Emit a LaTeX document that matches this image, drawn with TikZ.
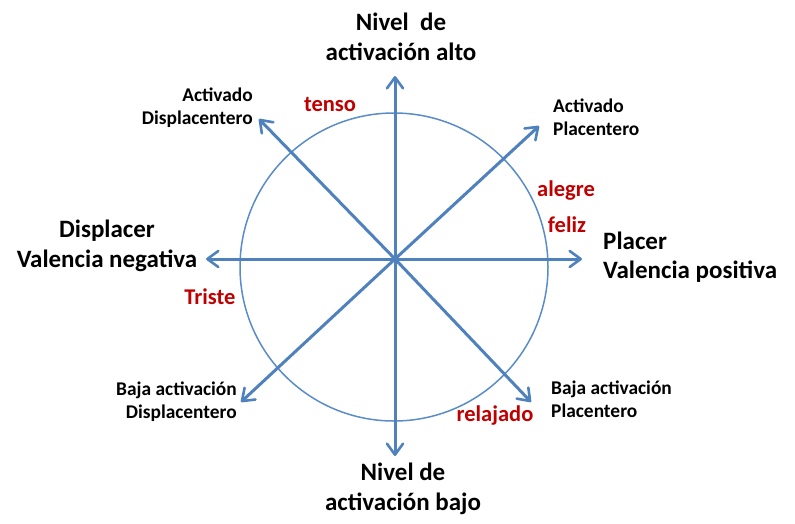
\documentclass[tikz,border=0pt]{standalone}
\usepackage{fontspec}
\setmainfont{Carlito}
\usetikzlibrary{arrows.meta}
\definecolor{axisblue}{RGB}{79,129,189}
\definecolor{circblue}{RGB}{90,140,200}
\definecolor{emored}{RGB}{192,0,0}
\tikzset{
  axisarrow/.style={draw=axisblue, line width=3pt, line cap=round,
    -{Straight Barb[length=11pt,width=16pt,line width=2.6pt,round]}},
  bigtxt/.style={font=\bfseries\fontsize{25}{29.5}\selectfont, text=black, inner sep=0pt, align=center},
  smalltxt/.style={font=\bfseries\fontsize{19.4}{23}\selectfont, text=black, inner sep=0pt},
  emotxt/.style={font=\bfseries\fontsize{22.5}{25}\selectfont, text=emored, inner sep=0pt},
}
\begin{document}
\begin{tikzpicture}[x=1pt,y=-1pt]
\useasboundingbox (0,0) rectangle (795,523);
\coordinate (O) at (395,259);
\coordinate (C) at (394,267);
\coordinate (tN) at (395,76);
\coordinate (tS) at (395,456);
\coordinate (tW) at (206,259);
\coordinate (tE) at (582,259);
\coordinate (tNW) at (259,119);
\coordinate (tNE) at (539,126);
\coordinate (tSW) at (241,402);
\coordinate (tSE) at (531,402);
\draw[draw=circblue, line width=1.5pt] (C) circle[radius=154];
\foreach \t in {tN,tS,tW,tE,tNW,tNE,tSW,tSE}{
  \draw[axisarrow] (O) -- (\t);
}
\node[bigtxt] (nalto) at (401,37) {Nivel\ \ de\\activación alto};
\node[bigtxt] (nbajo) at (403,489) {Nivel de\\activación bajo};
\node[bigtxt] (displ) at (107,246) {Displacer\\Valencia negativa};
\node[bigtxt, align=left, anchor=west] (plac) at (603,257) {Placer\\Valencia positiva};
\node[smalltxt, align=right, anchor=east] (actdis) at (253,108) {Activado\\Displacentero};
\node[smalltxt, align=left, anchor=west] (actpla) at (553,117) {Activado\\Placentero};
\node[smalltxt, align=right, anchor=east] (bajdis) at (237,402) {Baja activación\\Displacentero};
\node[smalltxt, align=left, anchor=west] (bajpla) at (551,399) {Baja activación\\Placentero};
\node[emotxt] (tenso) at (330,104) {tenso};
\node[emotxt] (alegre) at (566,191) {alegre};
\node[emotxt] (feliz) at (567,225) {feliz};
\node[emotxt] (triste) at (210,297) {Triste};
\node[emotxt] (relajado) at (495,415) {relajado};
\end{tikzpicture}
\end{document}
